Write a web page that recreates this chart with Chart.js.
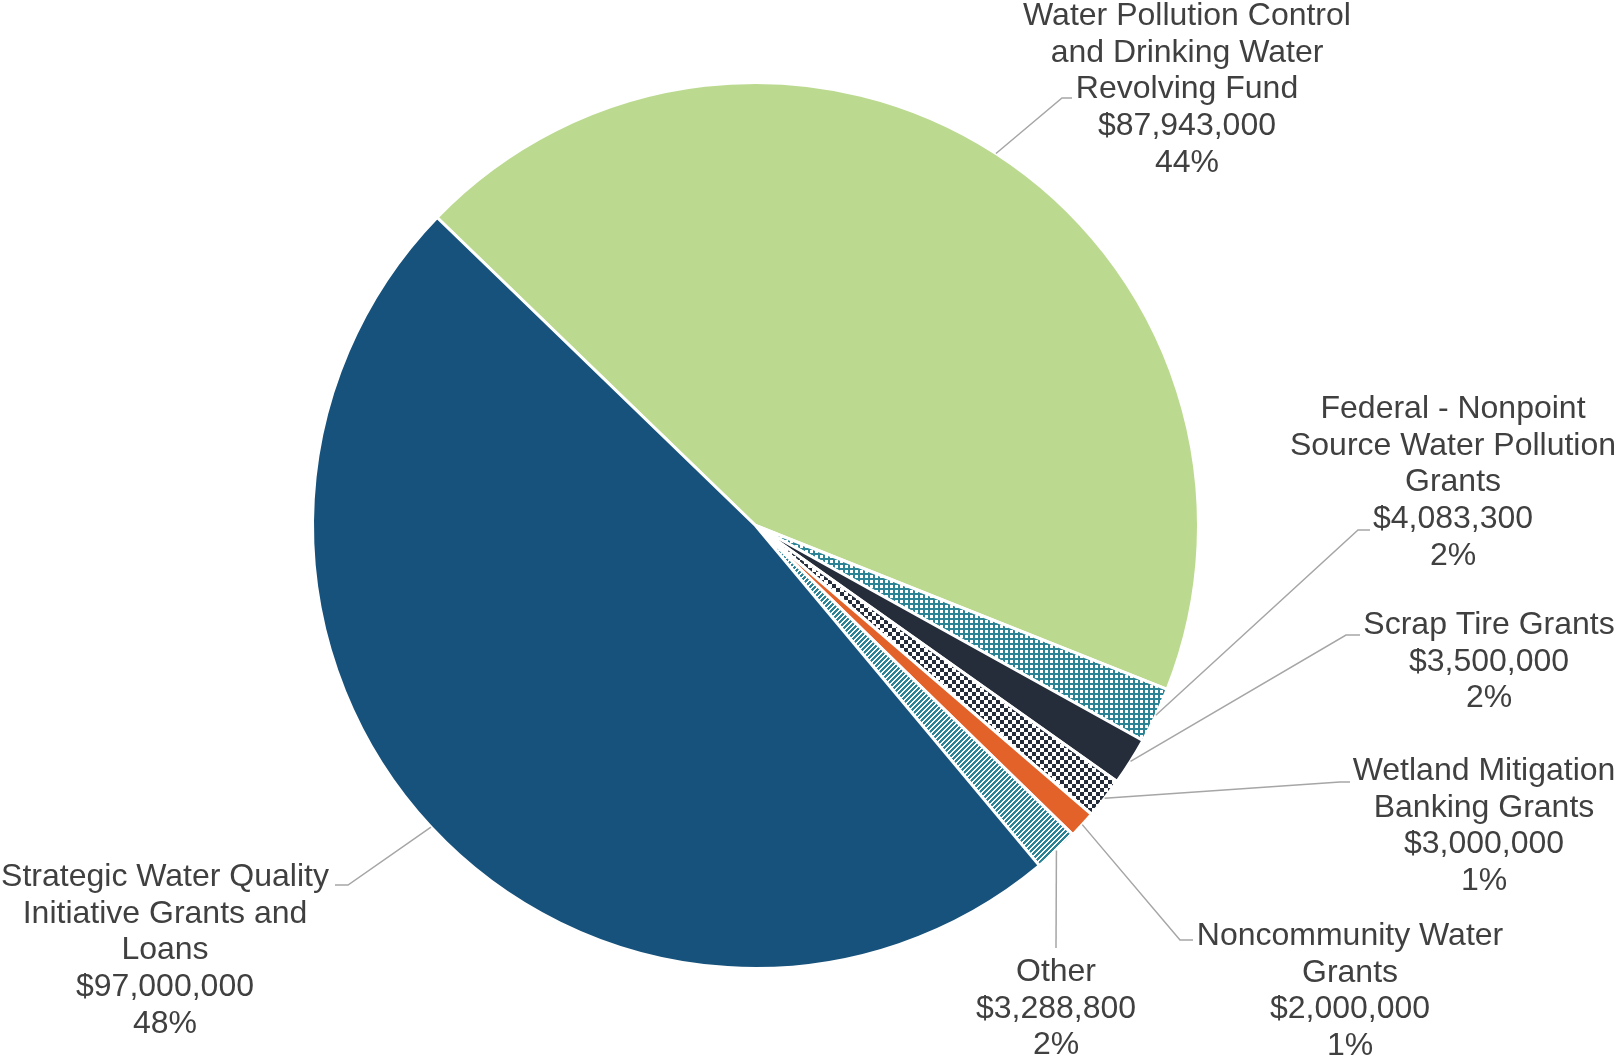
<!DOCTYPE html>
<html>
<head>
<meta charset="utf-8">
<script src="https://cdn.jsdelivr.net/npm/chart.js@4.4.0/dist/chart.umd.min.js"></script>
<style>
  html, body { margin: 0; padding: 0; background: #ffffff; }
  #wrap { width: 1616px; height: 1060px; position: relative; }
</style>
</head>
<body>
<div id="wrap"><canvas id="fundChart"></canvas></div>
<script>
// data (order = clockwise starting at the green slice)
const categories = [
    ["Water Pollution Control", "and Drinking Water", "Revolving Fund"],
    ["Federal - Nonpoint", "Source Water Pollution", "Grants"],
    ["Scrap Tire Grants"],
    ["Wetland Mitigation", "Banking Grants"],
    ["Noncommunity Water", "Grants"],
    ["Other"],
    ["Strategic Water Quality", "Initiative Grants and", "Loans"],
];
const amounts = [87943000, 4083300, 3500000, 3000000, 2000000, 3288800, 97000000];

// label layout: text centre x, first line y, leader elbow and end
const labelPos = [
    { x: 1187, y: 16, elbow: [1062, 98], end: [1072, 98] },
    { x: 1453, y: 409, elbow: [1358, 530], end: [1370, 530] },
    { x: 1489, y: 625, elbow: [1346, 635], end: [1360, 635] },
    { x: 1484, y: 771, elbow: [1340, 782], end: [1350, 782] },
    { x: 1350, y: 936, elbow: [1180, 940], end: [1193, 940] },
    { x: 1056, y: 972, elbow: [1056, 948], end: [1056, 948] },
    { x: 165, y: 877, elbow: [348, 885], end: [335, 885] },
];
const lineH = 36.7;

// BEGIN patterns
function makePattern(size, paint) {
    const c = document.createElement("canvas");
    c.width = size;
    c.height = size;
    const g = c.getContext("2d");
    paint(g, size);
    return document.getElementById("fundChart").getContext("2d").createPattern(c, "repeat");
}
const teal = "#2A8496";
const navy = "#252D3B";
// white squares on teal
const dotPattern = makePattern(5, (g, s) => {
    g.fillStyle = teal;
    g.fillRect(0, 0, s, s);
    g.fillStyle = "#ffffff";
    g.fillRect(0, 0, 3, 3);
});
// checkerboard navy / white
const checkPattern = makePattern(8, (g, s) => {
    g.fillStyle = "#ffffff";
    g.fillRect(0, 0, s, s);
    g.fillStyle = navy;
    g.fillRect(0, 0, 4, 4);
    g.fillRect(4, 4, 4, 4);
});
// wide upward diagonal teal stripes
const stripePattern = makePattern(5, (g, s) => {
    g.fillStyle = "#ffffff";
    g.fillRect(0, 0, s, s);
    g.fillStyle = teal;
    for (let x = 0; x < s; x++) {
        for (let y = 0; y < s; y++) {
            if ((x + y) % s < 3) g.fillRect(x, y, 1, 1);
        }
    }
});
// END patterns

const sliceColors = ["#BBDA90", dotPattern, navy, checkPattern, "#E2622A", stripePattern, "#17527C"];

const total = amounts.reduce((a, b) => a + b, 0);

const leaderLabels = {
    id: "leaderLabels",
    afterDatasetsDraw(chart) {
        const ctx = chart.ctx;
        const meta = chart.getDatasetMeta(0);
        ctx.save();
        ctx.font = "32px 'Liberation Sans', Arial, sans-serif";
        ctx.fillStyle = "#404040";
        ctx.textAlign = "center";
        ctx.textBaseline = "middle";
        meta.data.forEach((arc, i) => {
            const { x, y, startAngle, endAngle, outerRadius } = arc.getProps(
                ["x", "y", "startAngle", "endAngle", "outerRadius"], true);
            const mid = (startAngle + endAngle) / 2;
            const p = labelPos[i];
            ctx.strokeStyle = "#A6A6A6";
            ctx.lineWidth = 1.5;
            ctx.beginPath();
            ctx.moveTo(x + Math.cos(mid) * outerRadius, y + Math.sin(mid) * outerRadius);
            ctx.lineTo(p.elbow[0], p.elbow[1]);
            ctx.lineTo(p.end[0], p.end[1]);
            ctx.stroke();
            const lines = categories[i].concat([
                "$" + amounts[i].toLocaleString("en-US"),
                Math.round((amounts[i] / total) * 100) + "%",
            ]);
            lines.forEach((t, k) => ctx.fillText(t, p.x, p.y + k * lineH));
        });
        ctx.restore();
    },
};

const config = {
    type: "pie",
    data: {
        labels: categories.map((c) => c.join(" ")),
        datasets: [
            {
                data: amounts,
                backgroundColor: sliceColors,
                borderColor: "#ffffff",
                borderWidth: 3,
            },
        ],
    },
    options: {
        responsive: true,
        maintainAspectRatio: false,
        animation: false,
        rotation: -45.95,
        layout: {
            padding: { left: 311, top: 81, right: 416, bottom: 90 },
        },
        plugins: {
            legend: { display: false },
            tooltip: { enabled: false },
        },
    },
    plugins: [leaderLabels],
};
var fundChart = new Chart(document.getElementById("fundChart"), config);
</script>
</body>
</html>
